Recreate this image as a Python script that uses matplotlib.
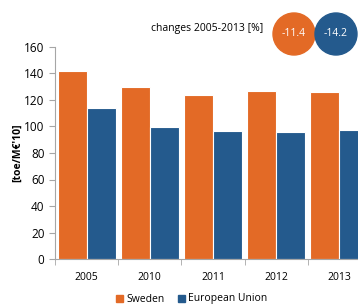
import matplotlib.pyplot as plt
import numpy as np
from matplotlib.patches import Ellipse, Rectangle

years = ["2005", "2010", "2011", "2012", "2013"]
sweden = [142.0, 130.0, 123.5, 127.0, 125.8]
eu = [113.8, 99.6, 96.6, 95.8, 97.6]
changes = [-11.4, -14.2]
series = ["Sweden", "European Union"]

orange = "#E36A26"
blue = "#245A8D"
grey = "#A6A6A6"
W, H = 358, 307

plt.rcParams["font.family"] = ["Open Sans", "DejaVu Sans"]
fig = plt.figure(figsize=(W / 100, H / 100), dpi=100)
# axes deliberately runs past the right edge like the original crop
ax = fig.add_axes([55 / W, (H - 259) / H, (371 - 55) / W, 212 / H])

x = np.arange(len(years))
bw = 0.46
ax.bar(x - bw / 2, sweden, bw, color=orange, edgecolor="white", linewidth=0.8)
ax.bar(x + bw / 2, eu, bw, color=blue, edgecolor="white", linewidth=0.8)

ax.set_xlim(-0.5, len(years) - 0.5)
ax.set_ylim(0, 160)
ax.set_yticks(range(0, 161, 20))
ax.set_xticks(x, years)
ax.set_xticks(np.arange(-0.5, len(years), 1.0), minor=True)
ax.tick_params(axis="x", which="major", length=0, pad=9, labelsize=7.5)
ax.tick_params(axis="x", which="minor", length=4, color=grey)
ax.tick_params(axis="y", length=4, color=grey, labelsize=8.5)
for s in ("top", "right"):
    ax.spines[s].set_visible(False)
for s in ("left", "bottom"):
    ax.spines[s].set_color(grey)
ax.set_ylabel("[toe/M€'10]", fontsize=7.5, fontweight="bold", labelpad=1)

fig.text(263 / W, 1 - 29 / H, "changes 2005-2013 [%]", ha="right", va="center", fontsize=7.5)
for cx, val, col in [(294, changes[0], orange), (336, changes[1], blue)]:
    fig.add_artist(Ellipse((cx / W, 1 - 34 / H), 42 / W, 42 / H,
                           transform=fig.transFigure, color=col))
    fig.text(cx / W, 1 - 34 / H, f"{val:.1f}", ha="center", va="center",
             color="white", fontsize=7.5)

for lx, col, lab in [(116, orange, series[0]), (178, blue, series[1])]:
    fig.add_artist(Rectangle((lx / W, 1 - 302 / H), 7 / W, 7 / H,
                             transform=fig.transFigure, color=col))
    fig.text((lx + 10) / W, 1 - 299 / H, lab, ha="left", va="center", fontsize=7.5)

fig.savefig("out.png", dpi=100)
